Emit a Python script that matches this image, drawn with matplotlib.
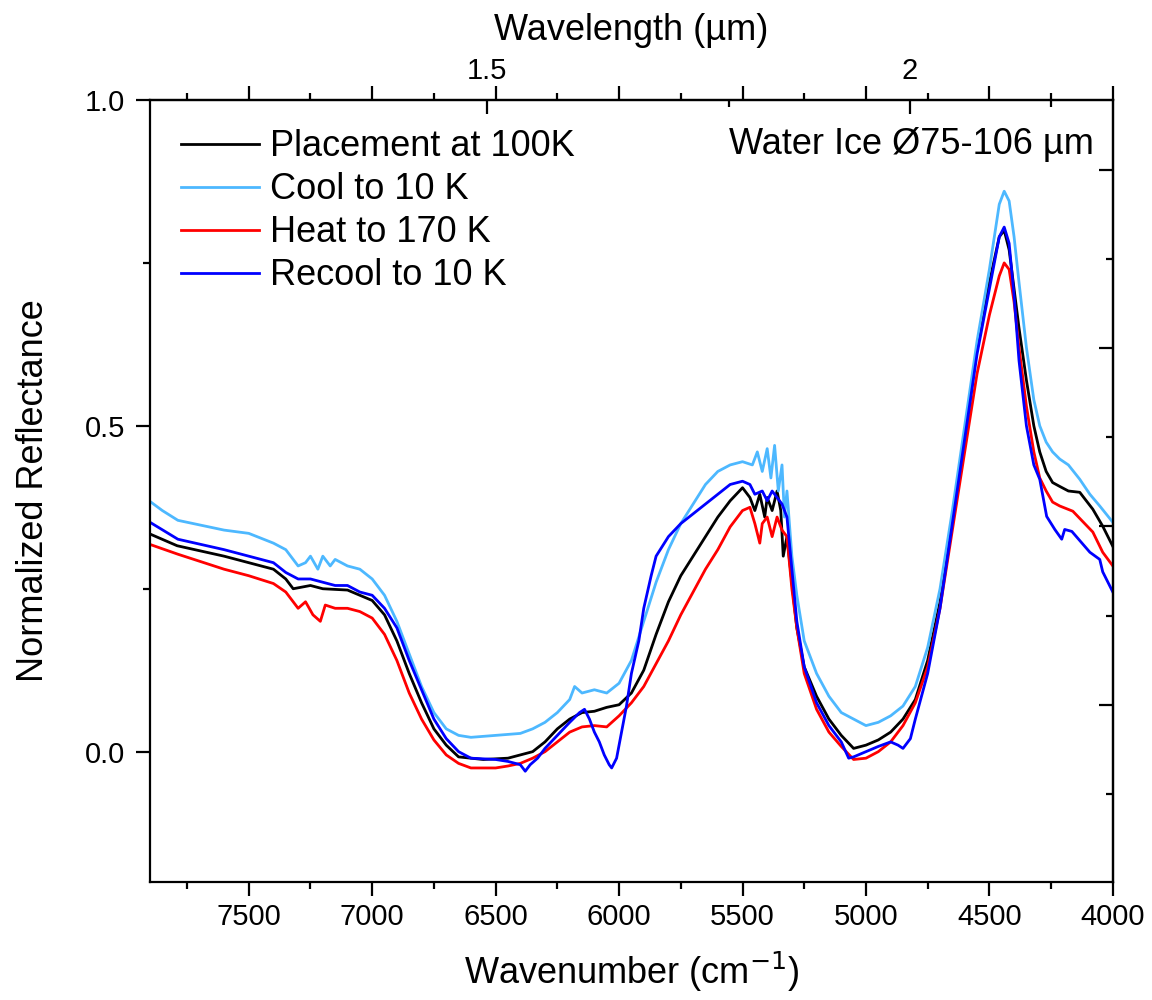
import matplotlib
matplotlib.use("Agg")
import matplotlib.pyplot as plt
import numpy as np

plt.rcParams['font.family'] = ['Liberation Sans', 'DejaVu Sans']

# ---------------- data ----------------
wn_black = [7900, 7790, 7600, 7500, 7400, 7350, 7320, 7250, 7200, 7100, 7050, 7000, 6950, 6900, 6850, 6800, 6750, 6700, 6650, 6550, 6450, 6400, 6350, 6300, 6250, 6200, 6150, 6100, 6050, 6000, 5950, 5900, 5850, 5800, 5750, 5700, 5650, 5600, 5550, 5500, 5470, 5450, 5430, 5410, 5400, 5380, 5360, 5345, 5335, 5320, 5300, 5280, 5250, 5200, 5150, 5100, 5050, 5000, 4950, 4900, 4850, 4800, 4750, 4700, 4650, 4600, 4550, 4500, 4460, 4440, 4420, 4400, 4380, 4350, 4320, 4296, 4270, 4244, 4215, 4180, 4134, 4081, 4041, 4000]
val_black = [0.334, 0.316, 0.30, 0.29, 0.28, 0.265, 0.25, 0.255, 0.25, 0.248, 0.24, 0.232, 0.21, 0.17, 0.12, 0.075, 0.035, 0.01, -0.008, -0.012, -0.01, -0.005, 0.0, 0.015, 0.035, 0.05, 0.06, 0.062, 0.068, 0.072, 0.09, 0.125, 0.18, 0.23, 0.27, 0.30, 0.33, 0.36, 0.385, 0.405, 0.39, 0.37, 0.395, 0.36, 0.39, 0.37, 0.40, 0.37, 0.30, 0.33, 0.26, 0.19, 0.13, 0.085, 0.05, 0.025, 0.005, 0.01, 0.018, 0.03, 0.05, 0.08, 0.14, 0.23, 0.35, 0.48, 0.62, 0.72, 0.79, 0.80, 0.77, 0.71, 0.65, 0.57, 0.50, 0.46, 0.43, 0.413, 0.407, 0.40, 0.398, 0.372, 0.346, 0.315]

wn_cool = [7900, 7850, 7787, 7600, 7500, 7400, 7350, 7300, 7270, 7250, 7220, 7200, 7170, 7150, 7100, 7050, 7000, 6950, 6900, 6850, 6800, 6750, 6700, 6650, 6600, 6500, 6400, 6350, 6300, 6250, 6200, 6180, 6150, 6100, 6050, 6000, 5950, 5900, 5850, 5800, 5750, 5700, 5650, 5600, 5550, 5500, 5460, 5440, 5420, 5400, 5385, 5370, 5355, 5340, 5330, 5320, 5300, 5280, 5250, 5200, 5150, 5100, 5050, 5000, 4950, 4900, 4850, 4800, 4750, 4700, 4650, 4600, 4550, 4500, 4460, 4440, 4420, 4400, 4380, 4350, 4320, 4296, 4270, 4244, 4215, 4180, 4134, 4093, 4053, 4000]
val_cool = [0.384, 0.37, 0.355, 0.34, 0.335, 0.32, 0.31, 0.285, 0.29, 0.30, 0.28, 0.30, 0.285, 0.295, 0.285, 0.28, 0.265, 0.24, 0.20, 0.15, 0.10, 0.06, 0.035, 0.025, 0.022, 0.025, 0.028, 0.035, 0.045, 0.06, 0.08, 0.10, 0.09, 0.095, 0.09, 0.105, 0.14, 0.20, 0.26, 0.31, 0.35, 0.38, 0.41, 0.43, 0.44, 0.445, 0.44, 0.46, 0.43, 0.465, 0.42, 0.47, 0.40, 0.44, 0.36, 0.40, 0.30, 0.24, 0.17, 0.12, 0.085, 0.06, 0.05, 0.04, 0.045, 0.055, 0.07, 0.10, 0.16, 0.25, 0.37, 0.50, 0.63, 0.74, 0.84, 0.86, 0.845, 0.79, 0.72, 0.62, 0.54, 0.50, 0.475, 0.46, 0.449, 0.44, 0.418, 0.395, 0.377, 0.352]

wn_heat = [7900, 7787, 7600, 7500, 7400, 7350, 7300, 7270, 7240, 7210, 7190, 7150, 7100, 7050, 7000, 6950, 6900, 6850, 6800, 6750, 6700, 6650, 6600, 6500, 6450, 6400, 6350, 6300, 6250, 6200, 6150, 6100, 6050, 6000, 5950, 5900, 5850, 5800, 5750, 5700, 5650, 5600, 5550, 5500, 5470, 5450, 5430, 5420, 5400, 5380, 5360, 5340, 5320, 5300, 5280, 5250, 5200, 5150, 5100, 5050, 5000, 4950, 4900, 4850, 4800, 4750, 4700, 4650, 4600, 4550, 4500, 4460, 4440, 4420, 4400, 4380, 4350, 4320, 4296, 4270, 4244, 4215, 4162, 4081, 4041, 4000]
val_heat = [0.318, 0.303, 0.28, 0.27, 0.258, 0.245, 0.22, 0.23, 0.21, 0.20, 0.225, 0.22, 0.22, 0.215, 0.205, 0.18, 0.14, 0.09, 0.05, 0.018, -0.005, -0.018, -0.025, -0.025, -0.022, -0.018, -0.01, 0.0, 0.015, 0.03, 0.038, 0.04, 0.038, 0.055, 0.075, 0.10, 0.135, 0.17, 0.21, 0.245, 0.28, 0.31, 0.345, 0.37, 0.375, 0.35, 0.32, 0.35, 0.36, 0.33, 0.36, 0.34, 0.33, 0.25, 0.19, 0.12, 0.065, 0.03, 0.008, -0.012, -0.01, 0.0, 0.015, 0.04, 0.075, 0.13, 0.22, 0.34, 0.46, 0.58, 0.67, 0.73, 0.75, 0.74, 0.69, 0.62, 0.53, 0.46, 0.42, 0.40, 0.383, 0.377, 0.369, 0.337, 0.306, 0.285]

wn_recool = [7900, 7787, 7600, 7500, 7400, 7350, 7300, 7250, 7200, 7150, 7100, 7050, 7000, 6950, 6900, 6850, 6800, 6750, 6700, 6650, 6600, 6500, 6450, 6400, 6380, 6360, 6330, 6300, 6250, 6200, 6160, 6140, 6120, 6100, 6080, 6060, 6040, 6030, 6010, 5990, 5970, 5950, 5920, 5900, 5870, 5850, 5800, 5750, 5700, 5650, 5600, 5550, 5500, 5470, 5450, 5420, 5400, 5380, 5360, 5340, 5320, 5300, 5280, 5250, 5200, 5150, 5100, 5070, 5050, 5000, 4950, 4900, 4870, 4850, 4820, 4800, 4750, 4700, 4650, 4600, 4550, 4500, 4460, 4440, 4420, 4400, 4380, 4350, 4320, 4296, 4268, 4235, 4207, 4195, 4166, 4093, 4053, 4041, 4000]
val_recool = [0.352, 0.326, 0.31, 0.30, 0.29, 0.275, 0.265, 0.265, 0.26, 0.255, 0.255, 0.245, 0.24, 0.22, 0.19, 0.14, 0.095, 0.05, 0.02, 0.0, -0.01, -0.012, -0.015, -0.02, -0.03, -0.02, -0.01, 0.005, 0.025, 0.045, 0.06, 0.065, 0.05, 0.03, 0.015, -0.005, -0.02, -0.025, -0.01, 0.03, 0.07, 0.12, 0.17, 0.22, 0.27, 0.30, 0.33, 0.35, 0.365, 0.38, 0.395, 0.41, 0.415, 0.41, 0.395, 0.40, 0.385, 0.40, 0.39, 0.38, 0.36, 0.28, 0.20, 0.13, 0.075, 0.04, 0.015, -0.01, -0.008, 0.0, 0.008, 0.015, 0.01, 0.005, 0.02, 0.05, 0.12, 0.22, 0.35, 0.48, 0.61, 0.71, 0.79, 0.805, 0.78, 0.70, 0.60, 0.50, 0.44, 0.418, 0.361, 0.341, 0.326, 0.341, 0.338, 0.306, 0.295, 0.276, 0.245]

labels = ["Placement at 100K", "Cool to 10 K", "Heat to 170 K", "Recool to 10 K"]
colors = ["#000000", "#4DB8FF", "#FF0000", "#0000FF"]

top_major = [1.5, 2.0]
top_minor = [1.25, 1.75, 2.25]

# ---------------- figure ----------------
fig = plt.figure(figsize=(11.52, 10.0), dpi=100)
ax = fig.add_axes([0.1302, 0.118, 0.966 - 0.1302, 0.782])

series = [(wn_black, val_black), (wn_cool, val_cool), (wn_heat, val_heat), (wn_recool, val_recool)]
handles = []
for i, (x, y) in enumerate(series):
    h, = ax.plot(x, y, color=colors[i], lw=2.0, label=labels[i])
    handles.append(h)

ax.set_xlim(7900, 4000)
ax.set_ylim(-0.2, 1.0)

ax.set_xticks([7500, 7000, 6500, 6000, 5500, 5000, 4500, 4000])
ax.set_xticks(np.arange(7750, 3999, -250), minor=True)
ax.set_yticks([0.0, 0.5, 1.0])
ax.set_yticks([0.25, 0.75], minor=True)
ax.yaxis.set_major_formatter(matplotlib.ticker.FormatStrFormatter('%.1f'))

for s in ax.spines.values():
    s.set_linewidth(1.6)

ax.tick_params(axis='x', which='both', direction='out', top=True, bottom=True,
               labeltop=False, width=1.6)
ax.tick_params(axis='x', which='major', length=10, labelsize=21, pad=5)
ax.tick_params(axis='x', which='minor', length=5)
ax.tick_params(axis='y', which='both', direction='out', left=True, right=False, width=1.6)
ax.tick_params(axis='y', which='major', length=10, labelsize=21, pad=8)
ax.tick_params(axis='y', which='minor', length=5)

# top wavelength axis (reciprocal, as in reference)
def nu2lam(nu):
    nu = np.asarray(nu, dtype=float)
    return 10272.0 / (nu + 314.0)

def lam2nu(lam):
    lam = np.asarray(lam, dtype=float)
    return 10272.0 / lam - 314.0

sec = ax.secondary_xaxis('top', functions=(nu2lam, lam2nu))
sec.set_xticks(top_major)
sec.set_xticklabels(['1.5', '2'])
sec.set_xticks(top_minor, minor=True)
sec.tick_params(which='both', direction='in', width=1.6, labelsize=21, pad=11)
sec.tick_params(which='major', length=10)
sec.tick_params(which='minor', length=5)
sec.spines['top'].set_linewidth(1.6)
sec.set_xlabel('Wavelength (µm)', fontsize=26, labelpad=12)

# right axis (unlabelled, inward ticks)
R0, RS = 0.072, 0.2737
secy = ax.secondary_yaxis('right', functions=(lambda y: (np.asarray(y) - R0) / RS,
                                               lambda r: np.asarray(r) * RS + R0))
secy.set_yticks([0, 1, 2, 3])
secy.set_yticks([0.5, 1.5, 2.5, -0.5], minor=True)
secy.tick_params(which='both', direction='in', width=1.6, labelright=False)
secy.tick_params(which='major', length=10)
secy.tick_params(which='minor', length=5)
secy.spines['right'].set_linewidth(1.6)

ax.set_xlabel('Wavenumber (cm$^{-1}$)', fontsize=26, labelpad=14)
ax.set_ylabel('Normalized Reflectance', fontsize=26, labelpad=24)

ax.legend(handles=handles, labels=labels, loc='upper left', bbox_to_anchor=(0.01, 0.99),
          frameon=False, fontsize=26, handlelength=2.15, handletextpad=0.3,
          labelspacing=0.22, borderaxespad=0.2)

ax.text(0.98, 0.965, 'Water Ice Ø75-106 µm', transform=ax.transAxes,
        ha='right', va='top', fontsize=26)

fig.savefig('out.png', dpi=100)
